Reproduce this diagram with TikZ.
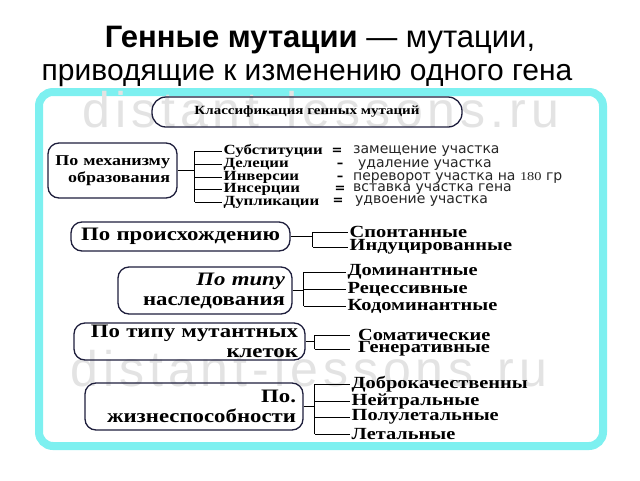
\documentclass[tikz,border=0pt]{standalone}
\usepackage{fontspec}
\setmainfont{Liberation Sans}
\newfontfamily\ser[FakeStretch=1.2]{Liberation Serif}
\newfontfamily\dv{DejaVu Sans}
\newfontfamily\wm[LetterSpace=10]{Liberation Sans}
\definecolor{framec}{RGB}{125,240,240}
\definecolor{navy}{RGB}{30,30,60}
\begin{document}
\begin{tikzpicture}[x=1pt,y=-1pt,
  cat/.style={draw=navy, line width=1.3pt, rounded corners=11pt, align=right,
    font=\ser\bfseries\fontsize{19}{20}\selectfont, inner xsep=7pt, inner ysep=0pt},
  item/.style={anchor=west, font=\ser\bfseries\fontsize{17}{18}\selectfont, inner sep=1.5pt},
  mid/.style={anchor=west, font=\ser\bfseries\fontsize{14}{15}\selectfont, inner sep=1.5pt},
  desc/.style={anchor=west, font=\dv\fontsize{14}{15}\selectfont, text=black!85, inner sep=0pt},
  eqs/.style={font=\dv\bfseries\fontsize{13}{14}\selectfont, inner sep=0pt},
  link/.style={line width=1pt, black},
  wmark/.style={anchor=base west, font=\wm\fontsize{50}{52}\selectfont, text=black!11, inner sep=0pt}
]
\useasboundingbox (0,0) rectangle (640,480);
\fill[white] (0,0) rectangle (640,480);
% title
\node[anchor=base, font=\fontsize{31}{34}\selectfont, inner sep=0pt] (t1) at (320,47) {\textbf{Генные мутации} — мутации,};
\node[anchor=base, font=\fontsize{30}{34}\selectfont, inner sep=0pt] (t2) at (307,80) {приводящие к изменению одного гена};
% frame
\draw[framec, line width=8pt, rounded corners=14pt] (39,92) rectangle (603,446);
% watermark
\node[wmark] (w1) at (82,127) {distant-lessons.ru};
\node[wmark] (w2) at (70,386) {distant-lessons.ru};
% header
\node[cat, align=center, minimum width=310pt, minimum height=30pt, rounded corners=14pt,
  font=\ser\bfseries\fontsize{12.5}{13}\selectfont] (hd) at (307,112) {Классификация генных мутаций};
% category boxes
\node[cat, minimum width=129pt, minimum height=55pt, text width=115pt,
  font=\ser\bfseries\fontsize{15}{17}\selectfont] (b1) at (112.5,170.5) {По механизму\\образования};
\node[cat, minimum width=219pt, minimum height=29pt, text width=205pt, align=center] (b2) at (180.5,236.5) {По происхождению};
\node[cat, minimum width=174pt, minimum height=47pt, text width=160pt] (b3) at (205,290.5) {{\itshape По типу}\\наследования};
\node[cat, minimum width=231pt, minimum height=37pt, text width=217pt] (b4) at (189.5,341.5) {По типу мутантных\\клеток};
\node[cat, minimum width=218pt, minimum height=47pt, text width=204pt] (b5) at (194,406.5) {По.\\жизнеспособности};
% group 1
\node[mid] (s11) at (222,151) {Субституции};
\node[mid] (s12) at (222,164) {Делеции};
\node[mid] (s13) at (222,177) {Инверсии};
\node[mid] (s14) at (222,189) {Инсерции};
\node[mid] (s15) at (222,202) {Дупликации};
\node[eqs] (e11) at (337,151) {=};
\node[eqs] (e12) at (340,165) {–};
\node[eqs] (e13) at (340,178) {–};
\node[eqs] (e14) at (340,189) {=};
\node[eqs] (e15) at (338,201) {=};
\node[desc] (d11) at (353,151) {замещение участка};
\node[desc] (d12) at (358,165) {удаление участка};
\node[desc] (d13) at (353,178) {переворот участка на {\ser\fontsize{12}{13}\selectfont 180} гр};
\node[desc] (d14) at (353,189) {вставка участка гена};
\node[desc] (d15) at (355,201) {удвоение участка};
\draw[link] (b1.east) -- ++(17,0) coordinate (k1);
\draw[link] (k1 |- s11.west) -- (k1 |- s15.west);
\foreach \n in {s11,s12,s13,s14,s15} \draw[link] (k1 |- \n.west) -- (\n.west);
% group 2
\node[item] (s21) at (348,232) {Спонтанные};
\node[item] (s22) at (348,247) {Индуцированные};
\draw[link] (b2.east) -- ++(22,0) coordinate (k2);
\draw[link] (k2 |- s21.west) -- (k2 |- s22.west);
\foreach \n in {s21,s22} \draw[link] (k2 |- \n.west) -- (\n.west);
% group 3
\node[item] (s31) at (346,272) {Доминантные};
\node[item] (s32) at (346,289) {Рецессивные};
\node[item] (s33) at (346,306) {Кодоминантные};
\draw[link] (b3.east) -- ++(11,0) coordinate (k3);
\draw[link] (k3 |- s31.west) -- (k3 |- s33.west);
\foreach \n in {s31,s32,s33} \draw[link] (k3 |- \n.west) -- (\n.west);
% group 4
\node[item, inner xsep=8pt] (s41) at (350,335) {Соматические};
\node[item, inner xsep=8pt] (s42) at (350,349) {Генеративные};
\draw[link] (b4.east) -- ++(9,0) coordinate (k4);
\draw[link] (k4 |- s41.west) -- (k4 |- s42.west);
\foreach \n in {s41,s42} \draw[link] (k4 |- \n.west) -- (\n.west);
% group 5
\node[item] (s51) at (350,384) {Доброкачественны};
\node[item] (s52) at (350,401) {Нейтральные};
\node[item] (s53) at (350,417) {Полулетальные};
\node[item] (s54) at (350,434) {Летальные};
\draw[link] (b5.east) -- ++(11,0) coordinate (k5);
\draw[link] (k5 |- s51.west) -- (k5 |- s54.west);
\foreach \n in {s51,s52,s53,s54} \draw[link] (k5 |- \n.west) -- (\n.west);
\end{tikzpicture}
\end{document}
